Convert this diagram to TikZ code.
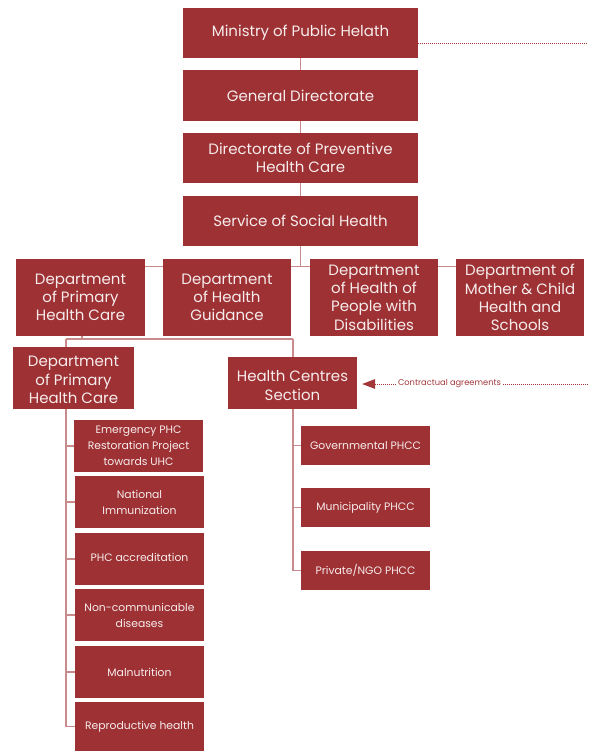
\documentclass[tikz,border=0pt]{standalone}
\usepackage{fontspec}
\setmainfont{Poppins}
\usetikzlibrary{arrows.meta}
\definecolor{boxred}{HTML}{9D3134}
\definecolor{boxtext}{HTML}{F7ECEC}
\definecolor{conn}{HTML}{C98A8B}
\definecolor{dashred}{HTML}{A3373A}
\begin{document}
\begin{tikzpicture}[x=1pt,y=-1pt,
  box/.style={fill=boxred,text=boxtext,align=center,inner sep=0pt,font=\fontsize{15}{18.3}\selectfont},
  boxlabel/.style={text=boxtext,align=center,inner sep=0pt,font=\fontsize{15}{18.3}\selectfont},
  smallbox/.style={box,font=\fontsize{10.8}{16}\selectfont},
  phcc/.style={box,font=\fontsize{10.8}{13}\selectfont,minimum width=129pt,minimum height=39pt},
  link/.style={draw=conn,line width=1.1pt},
  dotlink/.style={draw=dashred,line width=0.7pt,dash pattern=on 1.2pt off 0.8pt}]
\useasboundingbox (0,0) rectangle (588,751);
% top chain
\node[box,minimum width=235pt,minimum height=50pt] (min) at (300.5,33) {Ministry of Public Helath};
\node[box,minimum width=235pt,minimum height=51pt] (gen) at (300.5,95.5) {General Directorate};
\node[box,minimum width=235pt,minimum height=50pt] (dir) at (300.5,158) {Directorate of Preventive\\Health Care};
\node[box,minimum width=235pt,minimum height=50pt] (svc) at (300.5,221) {Service of Social Health};
% departments
\node[box,minimum width=129pt,minimum height=77pt] (d1) at (80.5,297.5) {Department\\of Primary\\Health Care};
\node[box,minimum width=128pt,minimum height=77pt] (d2) at (227,297.5) {Department\\of Health\\Guidance};
\node[box,minimum width=128pt,minimum height=77pt] (d3) at (374,297.5) {Department\\of Health of\\People with\\Disabilities};
\node[box,minimum width=128pt,minimum height=77pt] (d4) at (520,297.5) {Department of\\Mother \& Child\\Health and\\Schools};
% second level
\node[box,minimum width=121pt,minimum height=62pt] (d5) at (73.5,378) {};
\node[boxlabel] (d5t) at (73.5,380) {Department\\of Primary\\Health Care};
\node[box,minimum width=129pt,minimum height=52pt] (hcs) at (292.5,383) {};
\node[boxlabel] (hcst) at (292.5,385.5) {Health Centres\\Section};
% programmes
\node[smallbox,minimum width=129pt,minimum height=52pt] (s1) at (138.5,446) {Emergency PHC\\Restoration Project\\towards UHC};
\node[smallbox,minimum width=129pt,minimum height=52pt] (s2) at (139.5,502) {National\\Immunization};
\node[smallbox,minimum width=129pt,minimum height=52pt] (s3) at (139.5,559) {\raisebox{3pt}{PHC accreditation}};
\node[smallbox,minimum width=129pt,minimum height=52pt] (s4) at (139.5,615) {Non-communicable\\diseases};
\node[smallbox,minimum width=129pt,minimum height=52pt] (s5) at (139.5,672) {Malnutrition};
\node[smallbox,minimum width=129pt,minimum height=49pt] (s6) at (139.5,726.5) {Reproductive health};
% PHCCs
\node[phcc] (p1) at (365.5,445.5) {Governmental PHCC};
\node[phcc] (p2) at (365.5,507.5) {Municipality PHCC};
\node[phcc] (p3) at (365.5,570.5) {Private/NGO PHCC};
% connectors top chain
\draw[link] (min.south) -- (gen.north);
\draw[link] (gen.south) -- (dir.north);
\draw[link] (dir.south) -- (svc.north);
\coordinate (hub) at (300.5,267);
\draw[link] (svc.south) -- (hub);
\draw[link] ([yshift=-8pt]d1.north east) -- ([yshift=-8pt]d2.north west);
\draw[link] ([yshift=-8pt]d2.north east) -- ([yshift=-8pt]d3.north west);
\draw[link] ([yshift=-8pt]d3.north east) -- ([yshift=-8pt]d4.north west);
% second level connectors
\coordinate (jl) at (66,339);
\coordinate (jr) at (293,339);
\coordinate (jm) at (82,339);
\draw[link] (jm |- d1.south) -- (jm);
\draw[link] (jl) -- (jr);
\draw[link] (jl) -- (jl |- d5.north);
\draw[link] (jr) -- (jr |- hcs.north);
% left spine
\draw[link] (jl |- d5.south) -- (jl |- s6.west) -- (s6.west);
\foreach \n in {s1,s2,s3,s4,s5}{\draw[link] (jl |- \n.west) -- (\n.west);}
% right spine
\draw[link] (jr |- hcs.south) -- (jr |- p3.west) -- (p3.west);
\foreach \n in {p1,p2}{\draw[link] (jr |- \n.west) -- (\n.west);}
% dotted links
\coordinate (rt1) at (588,43);
\draw[dotlink] ([yshift=-10pt]min.east) -- (rt1);
\node[text=dashred,font=\fontsize{8.3}{9}\selectfont,inner xsep=2pt,inner ysep=1pt] (ca) at (449.5,384) {Contractual agreements};
\coordinate (rt2) at (588,384);
\draw[dotlink] (rt2) -- (ca.east);
\draw[dotlink,-{Triangle[length=13pt,width=10pt,fill=dashred,line width=0pt]}] (ca.west) -- ([xshift=5pt]hcs.east |- ca.west);
\end{tikzpicture}
\end{document}
